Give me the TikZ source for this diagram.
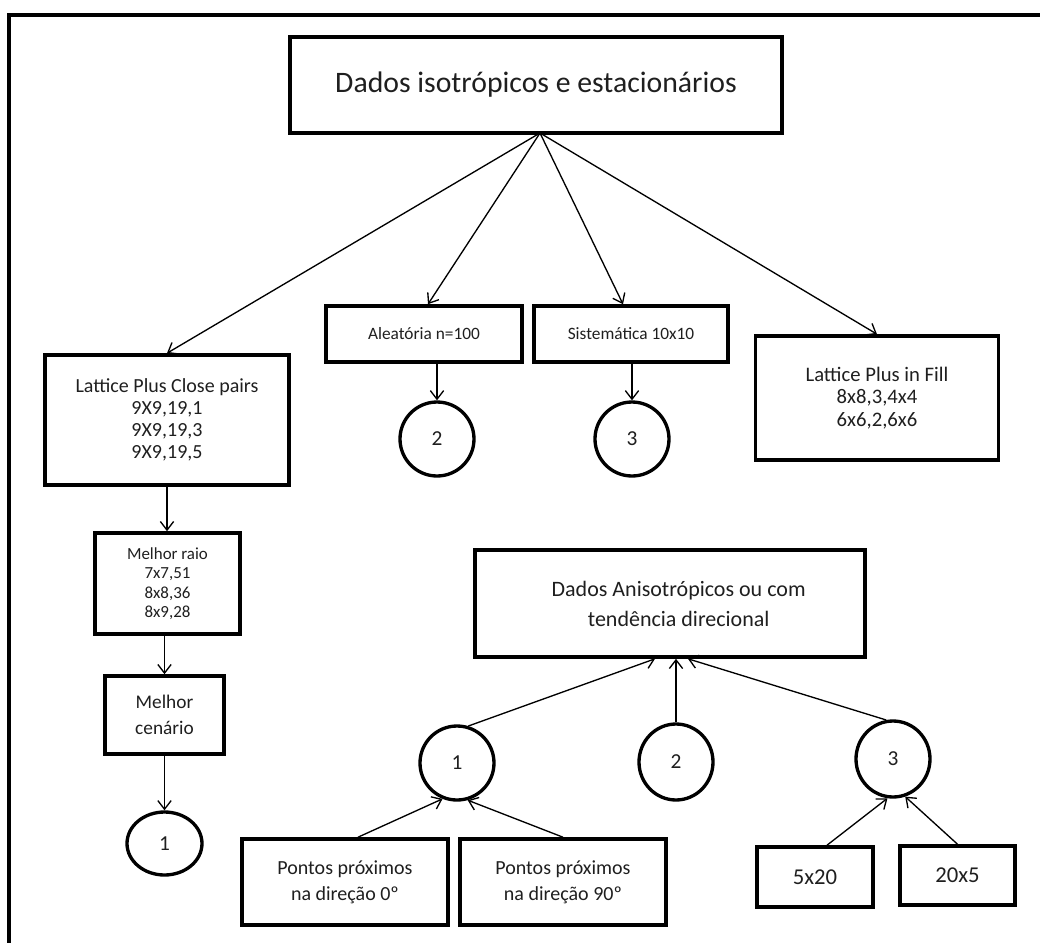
\documentclass[tikz,border=0pt]{standalone}
\usepackage{fontspec}
\setmainfont{Carlito}
\usetikzlibrary{arrows.meta,shapes.geometric,calc}
\tikzset{
  box/.style={draw, line width=2.7pt, inner sep=0pt, align=center, text=black!88},
  circ/.style={draw, ellipse, line width=2.5pt, inner sep=0pt, text=black!88, font=\fontsize{16}{18}\selectfont},
  conn/.style={-{Straight Barb[length=6.5pt,width=10pt]}, line width=1pt},
  frame/.style={line width=3.2pt}
}
\begin{document}
\begin{tikzpicture}[x=0.75pt,y=-0.75pt]
\useasboundingbox (0,0) rectangle (1040,943);
\draw[frame] (9,960) -- (9,15) -- (1060,15);

% top part
\node[box, minimum width=369pt, minimum height=72pt, font=\fontsize{22.3}{26}\selectfont] (top) at (536,85) {Dados isotrópicos e estacionários};
\coordinate (apex) at (540,133);

\node[box, minimum width=183pt, minimum height=97.5pt, font=\fontsize{15}{16.5}\selectfont] (lcp) at (167,420) {Lattice Plus Close pairs\\9X9,19,1\\9X9,19,3\\9X9,19,5};
\node[box, minimum width=147pt, minimum height=42pt, font=\fontsize{13}{15}\selectfont] (ale) at (424,334) {Aleatória n=100};
\node[box, minimum width=145.5pt, minimum height=42pt, font=\fontsize{13}{15}\selectfont] (sis) at (631,334) {Sistemática 10x10};
\node[box, minimum width=182.25pt, minimum height=93pt, font=\fontsize{15.5}{17}\selectfont] (lpf) at (877,398) {Lattice Plus in Fill\\8x8,3,4x4\\6x6,2,6x6};

\node[circ, minimum width=55.5pt, minimum height=55.5pt] (c2) at (437,439) {2};
\node[circ, minimum width=55.5pt, minimum height=55.5pt] (c3) at (632,439) {3};

\node[box, minimum width=108.75pt, minimum height=75.75pt, font=\fontsize{12.7}{14.6}\selectfont] (mr) at (167.5,583.5) {Melhor raio\\7x7,51\\8x8,36\\8x9,28};
\node[box, minimum width=89.25pt, minimum height=58.5pt, font=\fontsize{14.5}{19}\selectfont] (mc) at (164.5,715) {Melhor\\cenário};
\node[circ, minimum width=56.25pt, minimum height=47.25pt] (c1a) at (164.5,843.5) {1};

\draw[conn] (apex) -- (lcp.north);
\draw[conn] (apex) -- ($(ale.north)+(4,0)$);
\draw[conn] (apex) -- ($(sis.north)+(-8,0)$);
\draw[conn] (apex) -- (lpf.north);
\draw[conn] (ale.south -| c2.north) -- (c2.north);
\draw[conn] (sis.south -| c3.north) -- (c3.north);
\draw[conn] (lcp.south) -- (lcp.south |- mr.north);
\draw[conn] (mr.south -| mc.north) -- (mc.north);
\draw[conn] (mc.south) -- (c1a.north);

% bottom part
\node[box, minimum width=292.5pt, minimum height=80.25pt, font=\fontsize{16.5}{22.5}\selectfont] (ani) at (670,603.5) {\hspace*{13pt}Dados Anisotrópicos ou com\\\hspace*{13pt}tendência direcional};

\node[circ, minimum width=55.5pt, minimum height=55.5pt] (b1) at (457,763) {1};
\node[circ, minimum width=55.5pt, minimum height=57pt] (b2) at (676,762) {2};
\node[circ, minimum width=55.5pt, minimum height=57pt] (b3) at (893,759) {3};

\node[box, minimum width=154.5pt, minimum height=64.5pt, font=\fontsize{15}{19.5}\selectfont] (p0) at (345,882) {Pontos próximos\\na direção 0º};
\node[box, minimum width=154.5pt, minimum height=64.5pt, font=\fontsize{15}{19.5}\selectfont] (p90) at (563,882) {Pontos próximos\\na direção 90º};
\node[box, minimum width=87pt, minimum height=45pt, font=\fontsize{17}{20}\selectfont] (s520) at (815,877) {5x20};
\node[box, minimum width=86.25pt, minimum height=44.25pt, font=\fontsize{17}{20}\selectfont] (s205) at (957.5,875.5) {20x5};

\draw[conn] (b1.73) -- ($(ani.south)+(-15,0)$);
\draw[conn] (b2.north) -- (ani.south -| b2.north);
\draw[conn] (b3.100) -- ($(ani.south)+(18,0)$);

\draw[conn] ($(p0.north)+(13,0)$) -- (b1.248);
\draw[conn] (p90.north) -- (b1.286);
\draw[conn] ($(s520.north)+(12,0)$) -- (b3.262);
\draw[conn] (s205.north) -- (b3.288);
\end{tikzpicture}
\end{document}
